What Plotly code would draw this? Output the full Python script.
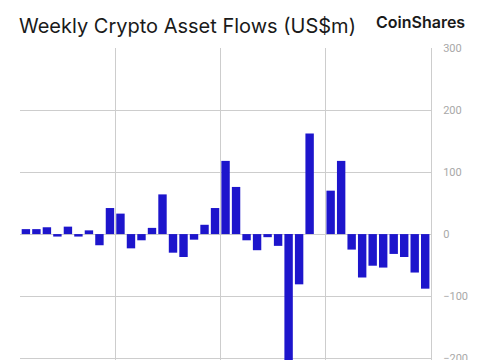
import plotly.graph_objects as go

weeks = list(range(39))
flows = [8, 8, 11, -4, 12, -4, 6, -18, 42, 33, -23, -10, 10, 64, -30, -37, -9, 15, 42, 118,
         76, -10, -26, -5, -19, -230, -81, 162, 0, 70, 118, -25, -70, -51, -54, -32, -37, -62, -88]
y_ticks = [-200, -100, 0, 100, 200, 300]
x_grid = [8.5, 18.5, 28.5]

grid = "#cdcdcd"
fig = go.Figure(go.Bar(x=weeks, y=flows, marker=dict(color="#1d15cc", line=dict(width=0)),
                       width=0.8))
fig.update_layout(
    width=477, height=352,
    margin=dict(l=12, r=54, t=40, b=0),
    paper_bgcolor="white", plot_bgcolor="white",
    showlegend=False,
    font=dict(family="Inter, Roboto, sans-serif"),
    xaxis=dict(range=[-0.56, 38.55], tickvals=x_grid, showticklabels=False, ticks="",
               showgrid=True, gridcolor=grid, gridwidth=1, zeroline=False, showline=False,
               automargin=False),
    yaxis=dict(range=[-203, 300], side="right", tickvals=y_ticks, ticks="",
               tickfont=dict(size=11, color="#a8a8a8", family="Roboto, sans-serif"),
               showgrid=True, gridcolor=grid, gridwidth=1, zeroline=True, zerolinecolor=grid,
               zerolinewidth=1, showline=True, linecolor=grid, linewidth=1,
               automargin=False, ticklabelstandoff=9, ticklabeloverflow="allow"),
)
fig.add_annotation(text="Weekly Crypto Asset Flows (US$m)", xref="paper", yref="paper",
                   x=0, y=1, yshift=22, xanchor="left", yanchor="middle", xshift=-3,
                   showarrow=False, font=dict(size=20, color="#1a1a1a", family="Inter, sans-serif"))
fig.add_annotation(text="CoinShares", xref="paper", yref="paper",
                   x=1, y=1, xanchor="right", yanchor="middle", yshift=26, xshift=36,
                   showarrow=False,
                   font=dict(size=16, color="#1a1a1a", family="Inter, sans-serif", weight=600))
fig.write_html("out.html")
